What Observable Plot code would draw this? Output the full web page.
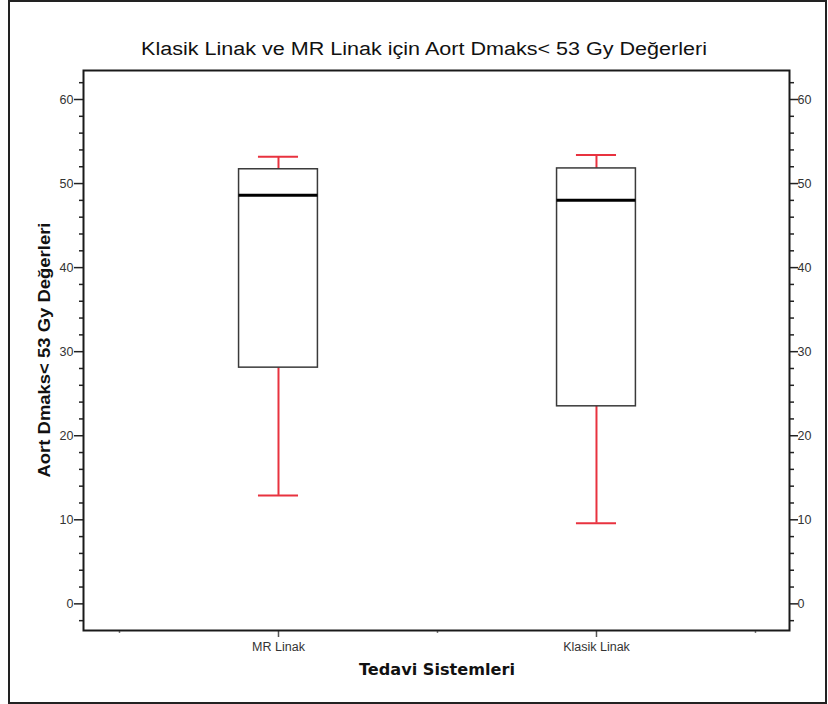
<!DOCTYPE html>
<html><head><meta charset="utf-8">
<script src="https://cdn.jsdelivr.net/npm/d3@7"></script>
<script src="https://cdn.jsdelivr.net/npm/@observablehq/plot@0.6"></script>
<style>
body{margin:0;background:#fff}
#wrap{position:relative;width:828px;height:704px}
#border{position:absolute;left:8px;top:0;width:819px;height:704px;border:2px solid #222;box-sizing:border-box;pointer-events:none}
#wrap svg{position:absolute;left:0;top:0}
</style>
</head><body><div id="wrap"><div id="border"></div></div>
<script>
const title = "Klasik Linak ve MR Linak için Aort Dmaks< 53 Gy Değerleri";
const xTitle = "Tedavi Sistemleri";
const yTitle = "Aort Dmaks< 53 Gy Değerleri";
const categories = ["MR Linak", "Klasik Linak"];
const whiskerLow = [12.9, 9.6];
const q1 = [28.1, 23.5];
const median = [48.6, 48.0];
const q3 = [51.7, 51.8];
const whiskerHigh = [53.2, 53.4];
const yTicks = [0, 10, 20, 30, 40, 50, 60];
const yMinorTicks = [-2, 2, 4, 6, 8, 12, 14, 16, 18, 22, 24, 26, 28, 32, 34, 36, 38, 42, 44, 46, 48, 52, 54, 56, 58, 62];
const xPositions = [1, 2];
const xEdges = [0.5, 1.5, 2.5];

const boxes = categories.map((c, i) => ({
  cat: c, pos: xPositions[i], lo: whiskerLow[i], q1: q1[i], med: median[i], q3: q3[i], hi: whiskerHigh[i]
}));

const boxHalf = 0.124, capHalf = 0.063;
const red = "#e8323f", ink = "#222";
const tickFont = {fontFamily: "Liberation Sans, Arial, sans-serif", fontSize: "12.5px"};

const chart = Plot.plot({
  width: 828, height: 704,
  marginTop: 70, marginLeft: 83, marginRight: 39, marginBottom: 74,
  style: {background: "transparent", color: "#333", ...tickFont},
  x: {type: "linear", domain: [0.3868, 2.607], label: null},
  y: {domain: [-3.17, 63.45], label: null},
  marks: [
    Plot.ruleX(boxes, {x: "pos", y1: "lo", y2: "q1", stroke: red, strokeWidth: 2}),
    Plot.ruleX(boxes, {x: "pos", y1: "q3", y2: "hi", stroke: red, strokeWidth: 2}),
    Plot.ruleY(boxes, {y: "lo", x1: d => d.pos - capHalf, x2: d => d.pos + capHalf, stroke: red, strokeWidth: 2}),
    Plot.ruleY(boxes, {y: "hi", x1: d => d.pos - capHalf, x2: d => d.pos + capHalf, stroke: red, strokeWidth: 2}),
    Plot.rect(boxes, {x1: d => d.pos - boxHalf, x2: d => d.pos + boxHalf, y1: "q1", y2: "q3", fill: "white", stroke: "#3a3a3a", strokeWidth: 1.5}),
    Plot.ruleY(boxes, {y: "med", x1: d => d.pos - boxHalf, x2: d => d.pos + boxHalf, stroke: "#000", strokeWidth: 3}),
    Plot.axisY({ticks: yTicks, anchor: "left", tickSize: 9, tickPadding: 1, stroke: ink, strokeWidth: 1.5, label: null, fill: "#333"}),
    Plot.axisY({ticks: yMinorTicks, anchor: "left", tickSize: 4, tickFormat: () => "", stroke: ink, strokeWidth: 1.5, label: null}),
    Plot.axisY({ticks: yTicks, anchor: "right", tickSize: 8, tickPadding: 0, stroke: ink, strokeWidth: 1.5, label: null, fill: "#333"}),
    Plot.axisY({ticks: yMinorTicks, anchor: "right", tickSize: 4, tickFormat: () => "", stroke: ink, strokeWidth: 1.5, label: null}),
    Plot.axisX({ticks: xPositions, tickFormat: v => categories[Math.round(v) - 1], tickSize: 7, tickPadding: 5, stroke: "#555", strokeWidth: 1.5, label: null, fill: "#333"}),
    Plot.axisX({ticks: xEdges, tickFormat: () => "", tickSize: 3, stroke: "#777", strokeWidth: 1.5, label: null}),
    Plot.frame({stroke: "#1a1a1a", strokeWidth: 2})
  ]
});
document.getElementById("wrap").appendChild(chart);

const svg = d3.select(chart);
svg.append("text")
  .attr("x", 424).attr("y", 55)
  .attr("text-anchor", "middle")
  .attr("textLength", 566).attr("lengthAdjust", "spacingAndGlyphs")
  .style("font-family", "Liberation Sans, Arial, sans-serif").style("font-size", "18px").style("fill", "#111")
  .text(title);
svg.append("text")
  .attr("x", 437).attr("y", 675)
  .attr("text-anchor", "middle")
  .attr("textLength", 156).attr("lengthAdjust", "spacingAndGlyphs")
  .style("font-family", "DejaVu Sans, sans-serif").style("font-weight", "bold").style("font-size", "16px").style("fill", "#111")
  .text(xTitle);
svg.append("text")
  .attr("transform", "translate(50,350) rotate(-90)")
  .attr("text-anchor", "middle")
  .attr("textLength", 255).attr("lengthAdjust", "spacingAndGlyphs")
  .style("font-family", "Liberation Sans, Arial, sans-serif").style("font-weight", "bold").style("font-size", "16.5px").style("fill", "#111")
  .text(yTitle);
</script>
</body></html>
